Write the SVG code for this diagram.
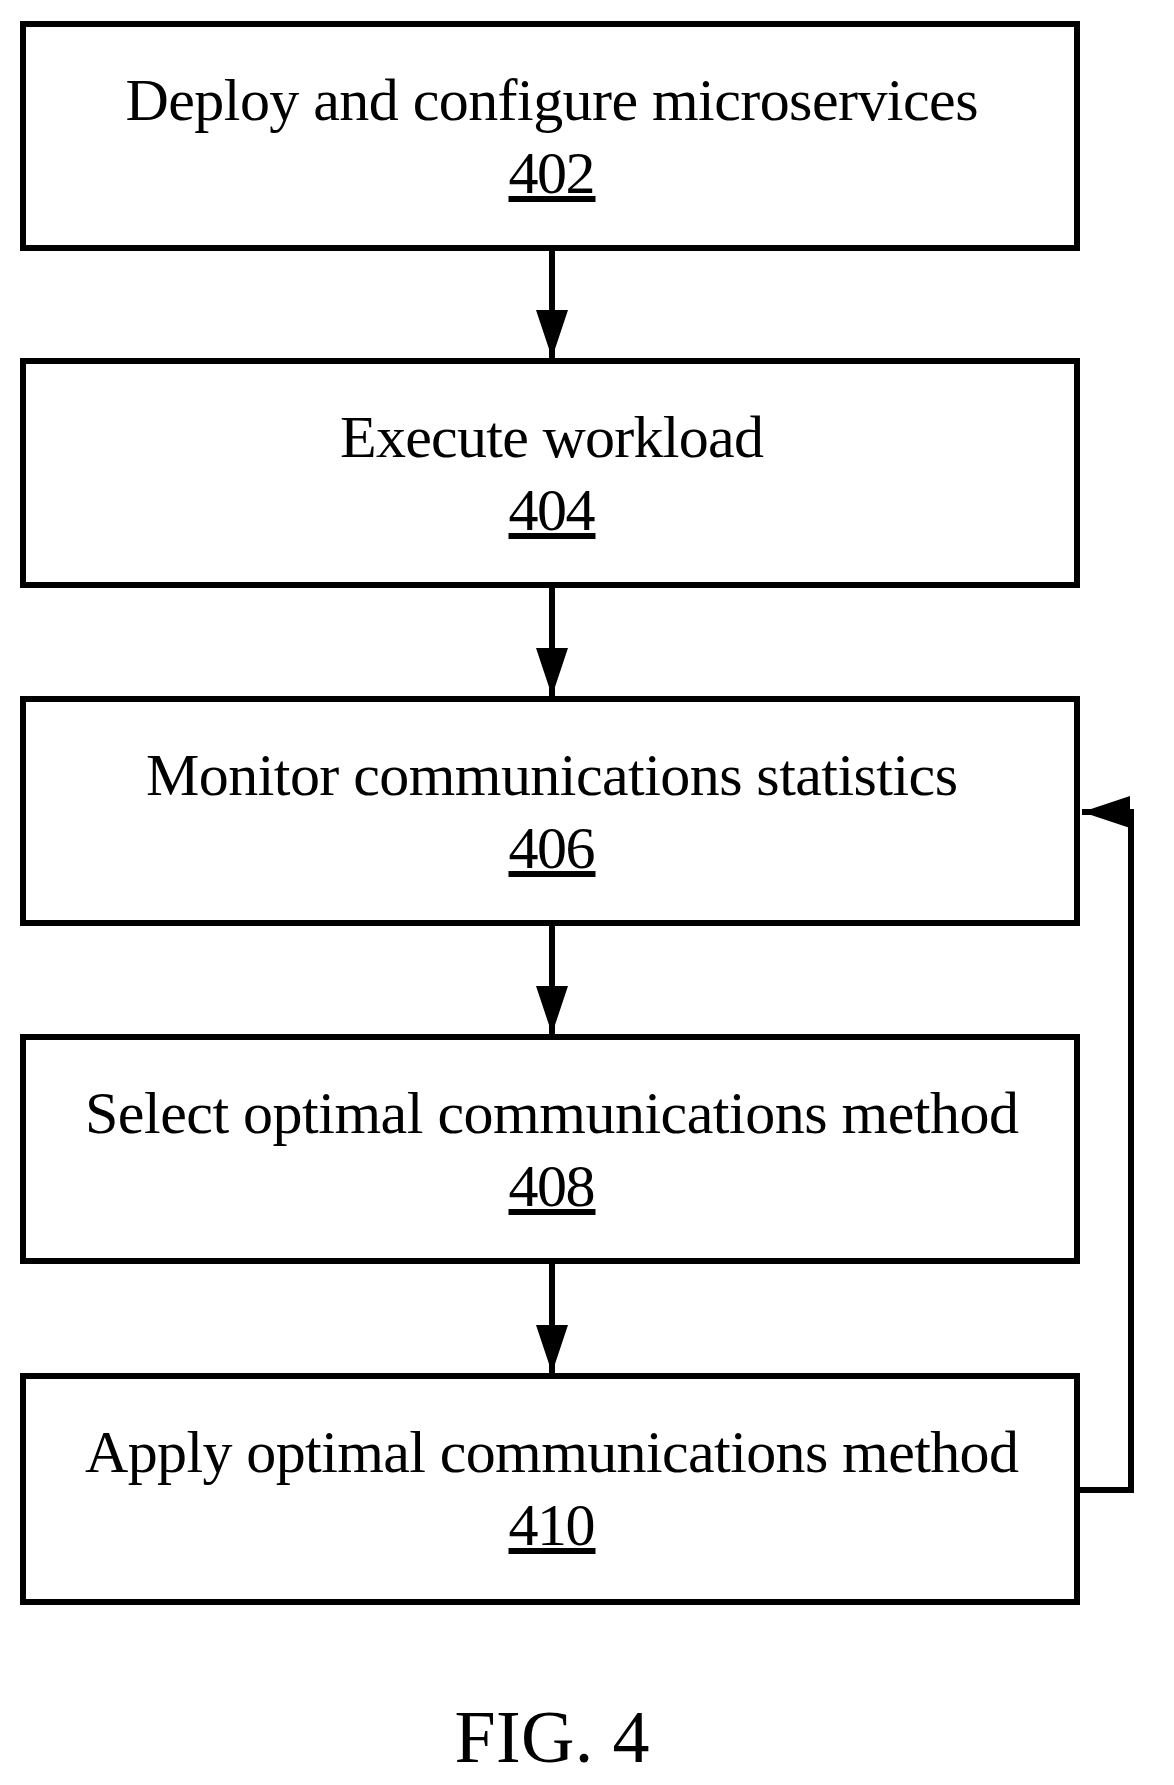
<svg xmlns="http://www.w3.org/2000/svg" width="1174" height="1785" viewBox="0 0 1174 1785">
<style>
.box{fill:#fff;stroke:#000;stroke-width:6}
.t{font-family:"Liberation Serif",serif;font-size:60px;text-anchor:middle;fill:#000}
.c{fill:none;stroke:#000;stroke-width:6}
</style>
<defs><marker id="a" markerUnits="userSpaceOnUse" markerWidth="50" markerHeight="34" refX="48" refY="16" orient="auto"><path d="M0,0 L48,16 L0,32 Z" fill="#000"/></marker></defs>
<rect width="1174" height="1785" fill="#fff"/>
<g id="connectors">
<line class="c" x1="552" y1="248" x2="552" y2="358" marker-end="url(#a)"/>
<line class="c" x1="552" y1="586" x2="552" y2="696" marker-end="url(#a)"/>
<line class="c" x1="552" y1="924" x2="552" y2="1034" marker-end="url(#a)"/>
<line class="c" x1="552" y1="1262" x2="552" y2="1373" marker-end="url(#a)"/>
<polyline class="c" points="1080,1490 1131,1490 1131,812 1082,812" marker-end="url(#a)"/>
</g>
<g id="n402"><rect class="box" x="23" y="24" width="1054" height="224"/><text class="t" x="552" y="120" textLength="853">Deploy and configure microservices</text><text class="t" x="552" y="193" text-decoration="underline" textLength="87">402</text></g>
<g id="n404"><rect class="box" x="23" y="361" width="1054" height="224"/><text class="t" x="552" y="457" textLength="424">Execute workload</text><text class="t" x="552" y="530" text-decoration="underline" textLength="87">404</text></g>
<g id="n406"><rect class="box" x="23" y="699" width="1054" height="224"/><text class="t" x="552" y="795" textLength="812">Monitor communications statistics</text><text class="t" x="552" y="868" text-decoration="underline" textLength="87">406</text></g>
<g id="n408"><rect class="box" x="23" y="1037" width="1054" height="224"/><text class="t" x="552" y="1133" textLength="934">Select optimal communications method</text><text class="t" x="552" y="1206" text-decoration="underline" textLength="87">408</text></g>
<g id="n410"><rect class="box" x="23" y="1376" width="1054" height="226"/><text class="t" x="552" y="1472" textLength="934">Apply optimal communications method</text><text class="t" x="552" y="1545" text-decoration="underline" textLength="87">410</text></g>
<text class="t" x="552" y="1762" style="font-size:74px" textLength="195">FIG. 4</text>
</svg>
